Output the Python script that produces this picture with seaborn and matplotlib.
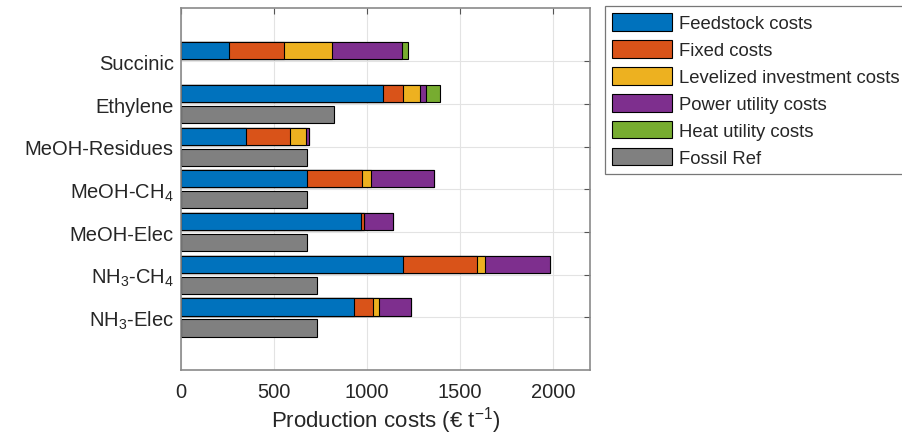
import numpy as np
import pandas as pd
import matplotlib
matplotlib.use("Agg")
import matplotlib.pyplot as plt
from matplotlib.patches import Patch
import seaborn as sns

# Production cost breakdown per route (EUR per tonne)
products = ["Succinic", "Ethylene", "MeOH-Residues", r"MeOH-CH$_4$",
            "MeOH-Elec", r"NH$_3$-CH$_4$", r"NH$_3$-Elec"]
feedstock = [255, 1087, 350, 675, 969, 1195, 931]
fixed = [299, 108, 235, 299, 16, 398, 101]
levelized = [259, 88, 86, 47, 0, 43, 32]
power = [376, 36, 18, 337, 153, 348, 174]
heat = [33, 75, 0, 0, 0, 0, 0]
fossil_ref = [0, 820, 675, 675, 675, 729, 729]

series_names = ["Feedstock costs", "Fixed costs", "Levelized investment costs",
                "Power utility costs", "Heat utility costs", "Fossil Ref"]
colors = ["#0072BD", "#D95319", "#EDB120", "#7E2F8E", "#77AC30", "#808080"]

sns.set_theme(style="white")
plt.rcParams["font.family"] = ["Liberation Sans", "DejaVu Sans"]
plt.rcParams["mathtext.fontset"] = "custom"
plt.rcParams["mathtext.rm"] = "Liberation Sans"
plt.rcParams["mathtext.it"] = "Liberation Sans"
plt.rcParams["mathtext.default"] = "regular"

fig = plt.figure(figsize=(9.02, 4.35), dpi=100)
ax = fig.add_axes([0.201, 0.146, 0.453, 0.8326])

pos = np.arange(len(products))
offset = 0.246
bar_h = 0.4

stack = np.array([feedstock, fixed, levelized, power, heat], dtype=float)
cum = np.cumsum(stack, axis=0)

# Stacked process costs: overlay cumulative totals, largest first
for k in range(stack.shape[0] - 1, -1, -1):
    df = pd.DataFrame({"value": cum[k], "y": pos - offset})
    sns.barplot(data=df, x="value", y="y", orient="y", native_scale=True,
                width=bar_h, color=colors[k], saturation=1, edgecolor="black",
                linewidth=0.8, errorbar=None, ax=ax)

# Fossil reference bars
fos = pd.DataFrame({"value": fossil_ref, "y": pos + offset})
fos = fos[fos["value"] > 0]
sns.barplot(data=fos, x="value", y="y", orient="y", native_scale=True,
            width=bar_h, color=colors[5], saturation=1, edgecolor="black",
            linewidth=0.8, errorbar=None, ax=ax)

ax.set_xlim(0, 2200)
ax.set_ylim(len(products) - 1 + 1.242, -1.242)
ax.set_xticks([0, 500, 1000, 1500, 2000])
ax.set_xticklabels(["0", "500", "1000", "1500", "2000"])
ax.set_yticks(pos)
ax.set_yticklabels(products)
ax.set_ylabel("")
ax.set_xlabel(r"Production costs (€ t$^{-1}$)", fontsize=16, color="#262626")
ax.xaxis.label.set_va("baseline")
ax.xaxis.set_label_coords(0.5, -0.155)

ax.grid(True, color="#e3e3e3", linewidth=0.8)
ax.set_axisbelow(True)
ax.tick_params(axis="both", direction="in", length=4, width=0.8,
               colors="#555555", labelcolor="#262626", labelsize=14.5,
               top=True, right=True)
ax.tick_params(axis="y", pad=5.5)
ax.tick_params(axis="x", pad=8)
for sp in ax.spines.values():
    sp.set_visible(True)
    sp.set_color("#8a8a8a")
    sp.set_linewidth(1.2)

handles = [Patch(facecolor=c, edgecolor="black", linewidth=0.8) for c in colors]
leg = fig.legend(handles, series_names, loc="upper left",
                 bbox_to_anchor=(605 / 902, 1 - 6.7 / 435), fontsize=13.3,
                 frameon=True, fancybox=False, handlelength=3.25,
                 handleheight=1.1, labelspacing=0.42, handletextpad=0.33,
                 borderpad=0.4, borderaxespad=0)
leg.get_frame().set_edgecolor("#555555")
leg.get_frame().set_linewidth(0.9)
for t in leg.get_texts():
    t.set_color("#262626")

fig.savefig("out.png", dpi=100)
